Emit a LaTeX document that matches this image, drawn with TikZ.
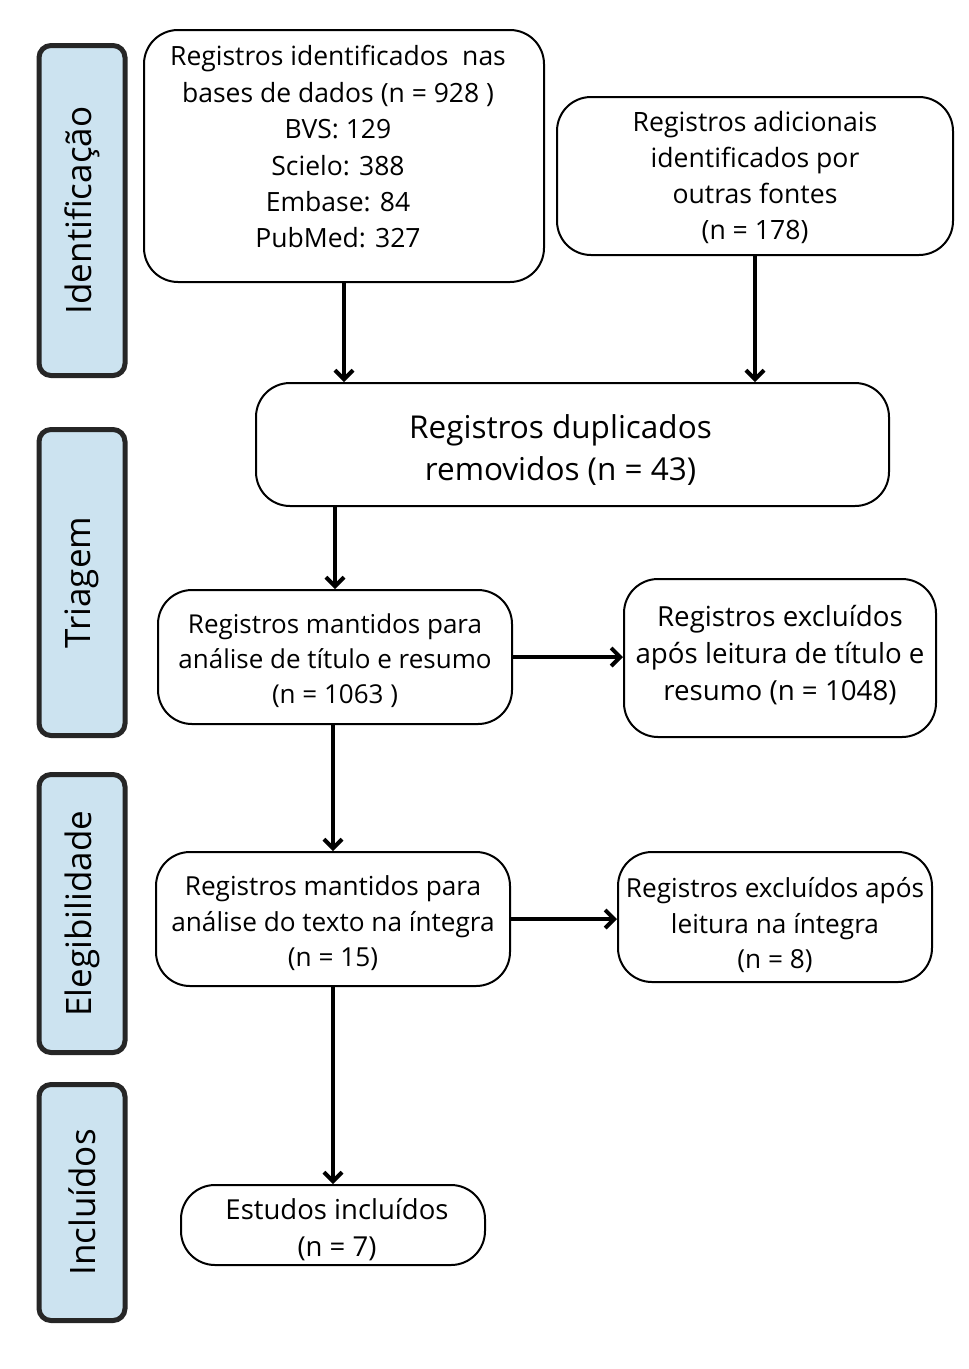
\documentclass[tikz,border=0pt]{standalone}
\usepackage{fontspec}
\setmainfont{Open Sans}
\usetikzlibrary{arrows.meta,positioning}
\definecolor{stagefill}{RGB}{204,227,240}
\tikzset{
    box/.style ={
        shape=rectangle,
        rounded corners=34pt,
        draw=black,
        line width=2pt,
        inner sep=0pt
    },
    txt/.style ={
        align=center,
        inner sep=0pt,
        font=\fontsize{26.3}{36}\selectfont
    },
    stage/.style ={
        shape=rectangle,
        rounded corners=12pt,
        draw=black!85,
        fill=stagefill,
        line width=5pt,
        minimum width=86pt,
        inner sep=0pt
    },
    stagetxt/.style ={
        rotate=90,
        font=\fontsize{35}{40}\selectfont
    },
    arr/.style ={
        line width=4pt,
        -{Straight Barb[length=9pt,width=18pt,line width=4pt]}
    }
}
\begin{document}
\begin{tikzpicture}[x=1pt,y=1pt]
    \useasboundingbox (0,0) rectangle (969,-1369);
    % fases
    \node[stage,minimum height=330pt] (s1) at(82,-210.5) {};
    \node[stagetxt] at (s1) {Identificação};
    \node[stage,minimum height=306pt] (s2) at(82,-582.5) {};
    \node[stagetxt] at (s2) {Triagem};
    \node[stage,minimum height=278pt] (s3) at(82,-913.5) {};
    \node[stagetxt] at (s3) {Elegibilidade};
    \node[stage,minimum height=236pt] (s4) at(82,-1202.5) {};
    \node[stagetxt] at (s4) {Incluídos};
    % caixas
    \node[box,minimum width=400pt,minimum height=252pt] (bases) at(344,-156) {};
    \node[txt,font=\fontsize{26.5}{36.4}\selectfont] at ([xshift=-6pt,yshift=9pt]bases.center)
        {Registros identificados\ \ nas\\ bases de dados (n = 928 )\\ BVS: 129\\ Scielo: 388\\ Embase: 84\\ PubMed: 327};
    \node[box,minimum width=396pt,minimum height=158pt] (outras) at(755,-176) {};
    \node[txt,font=\fontsize{26.6}{36}\selectfont] at ([yshift=-1pt]outras.center)
        {Registros adicionais\\ identificados por\\ outras fontes\\ (n = 178)};
    \node[box,minimum width=633pt,minimum height=123pt] (dup) at(572.5,-444.5) {};
    \node[txt,font=\fontsize{31.5}{42}\selectfont] at ([xshift=-12pt,yshift=-6pt]dup.center)
        {Registros duplicados\\ removidos (n = 43)};
    \node[box,minimum width=354pt,minimum height=134pt] (titulo) at(335,-657) {};
    \node[txt,font=\fontsize{26}{35}\selectfont] at ([yshift=-4pt]titulo.center)
        {Registros mantidos para\\ análise de título e resumo\\ (n = 1063 )};
    \node[box,minimum width=312pt,minimum height=158pt] (exc1) at(780,-658) {};
    \node[txt,font=\fontsize{27.7}{37}\selectfont] at ([yshift=3pt]exc1.center)
        {Registros excluídos\\ após leitura de título e\\ resumo (n = 1048)};
    \node[box,minimum width=354pt,minimum height=134pt] (texto) at(333,-919) {};
    \node[txt,font=\fontsize{26.2}{35.5}\selectfont] at ([yshift=-4.5pt]texto.center)
        {Registros mantidos para\\ análise do texto na íntegra\\ (n = 15)};
    \node[box,minimum width=314pt,minimum height=130pt] (exc2) at(775,-917) {};
    \node[txt,font=\fontsize{26.2}{35.5}\selectfont] at ([yshift=-8.5pt]exc2.center)
        {Registros excluídos após\\ leitura na íntegra\\ (n = 8)};
    \node[box,minimum width=304pt,minimum height=80pt] (incl) at(333,-1225) {};
    \node[txt,font=\fontsize{27.5}{37}\selectfont] at ([xshift=4pt,yshift=-4.5pt]incl.center)
        {Estudos incluídos\\ (n = 7)};
    % setas
    \draw[arr] (bases.south) -- (bases.south |- dup.north);
    \draw[arr] (outras.south) -- (outras.south |- dup.north);
    \draw[arr] (dup.south -| titulo) -- (titulo.north);
    \draw[arr] (titulo.east) -- (exc1.west |- titulo.east);
    \draw[arr] (titulo.south -| texto) -- (texto.north);
    \draw[arr] (texto.east) -- (exc2.west |- texto.east);
    \draw[arr] (texto.south) -- (incl.north);
\end{tikzpicture}
\end{document}
